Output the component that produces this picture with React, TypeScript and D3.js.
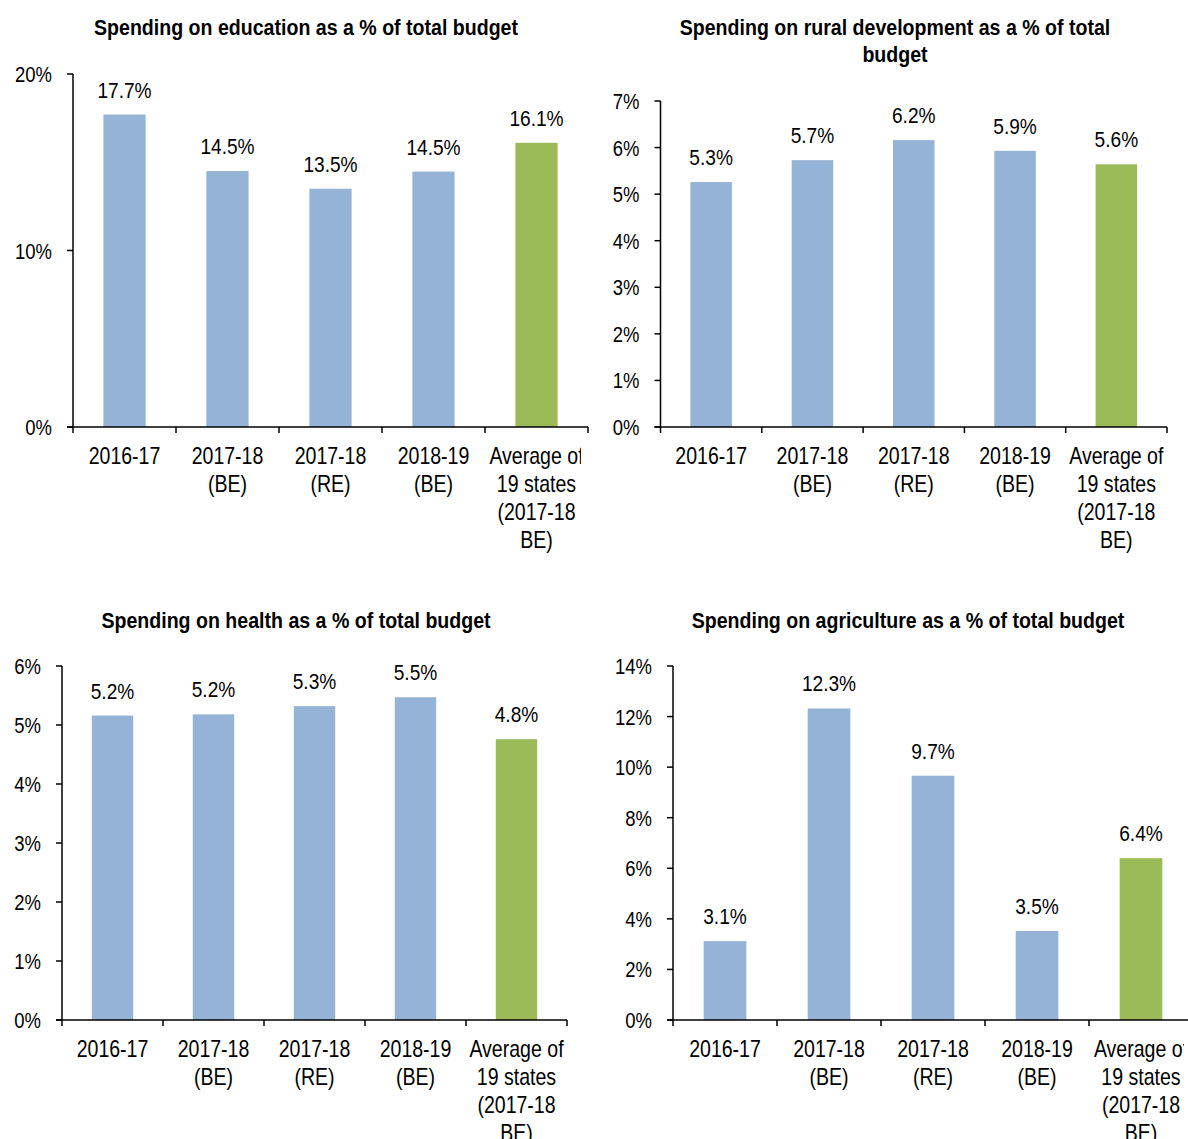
import React from 'react';
import { scaleBand, scaleLinear, range } from 'd3';

// shared x categories (each entry is the wrapped lines of the label)
const categories = ['2016-17', '2017-18 (BE)', '2017-18 (RE)', '2018-19 (BE)', 'Average of 19 states (2017-18 BE)'];
const categoryLines = [
  ['2016-17'],
  ['2017-18', '(BE)'],
  ['2017-18', '(RE)'],
  ['2018-19', '(BE)'],
  ['Average of', '19 states', '(2017-18', 'BE)'],
];

const educationValues = [17.7, 14.5, 13.5, 14.47, 16.1];
const ruralValues = [5.26, 5.73, 6.16, 5.93, 5.64];
const healthValues = [5.16, 5.18, 5.32, 5.47, 4.76];
const agricultureValues = [3.12, 12.32, 9.66, 3.52, 6.4];

const educationTicks = [0, 10, 20];
const ruralTicks = [0, 1, 2, 3, 4, 5, 6, 7];
const healthTicks = [0, 1, 2, 3, 4, 5, 6];
const agricultureTicks = [0, 2, 4, 6, 8, 10, 12, 14];

const BLUE = '#95b3d7';
const GREEN = '#9bbb59';
const FONT = "'Liberation Sans', Arial, sans-serif";

// no narrow font installed, so squeeze the regular one horizontally
const T = ({ x, y, sx = 0.85, size = 23, anchor = 'middle', bold = false, children }: any) => (
  <text
    transform={`translate(${x},${y}) scale(${sx},1)`}
    textAnchor={anchor}
    fontSize={size}
    fontWeight={bold ? 'bold' : 'normal'}
  >
    {children}
  </text>
);

type Panel = {
  id: string;
  title: string[];
  values: number[];
  ticks: number[];
  x0: number;
  bandW: number;
  yTop: number;
  yBottom: number;
  titleX: number;
  titleY: number;
  clipRight: number;
};

const panels: Panel[] = [
  { id: 'edu', title: ['Spending on education as a % of total budget'], values: educationValues, ticks: educationTicks,
    x0: 73, bandW: 103, yTop: 74, yBottom: 427, titleX: 306, titleY: 35, clipRight: 581 },
  { id: 'rural', title: ['Spending on rural development as a % of total', 'budget'], values: ruralValues, ticks: ruralTicks,
    x0: 660.5, bandW: 101.3, yTop: 101, yBottom: 427, titleX: 895, titleY: 35, clipRight: 1188 },
  { id: 'health', title: ['Spending on health as a % of total budget'], values: healthValues, ticks: healthTicks,
    x0: 62, bandW: 101, yTop: 666, yBottom: 1020, titleX: 296, titleY: 628, clipRight: 1188 },
  { id: 'agri', title: ['Spending on agriculture as a % of total budget'], values: agricultureValues, ticks: agricultureTicks,
    x0: 673, bandW: 104, yTop: 666, yBottom: 1020, titleX: 908, titleY: 628, clipRight: 1184 },
];

const BarPanel = ({ p }: { p: Panel }) => {
  const x = scaleBand<string>()
    .domain(categories)
    .range([p.x0, p.x0 + p.bandW * categories.length])
    .paddingInner(0.59)
    .paddingOuter(0.295);
  const y = scaleLinear()
    .domain([0, p.ticks[p.ticks.length - 1]])
    .range([p.yBottom, p.yTop]);
  const xEnd = p.x0 + p.bandW * categories.length;
  const boundaries = range(categories.length + 1).map((i) => p.x0 + i * p.bandW);
  const cx = (i: number) => x(categories[i])! + x.bandwidth() / 2;

  return (
    <g>
      <defs>
        <clipPath id={`clip-${p.id}`}>
          <rect x={0} y={0} width={p.clipRight} height={1139} />
        </clipPath>
      </defs>
      {p.title.map((t, i) => (
        <T key={i} x={p.titleX} y={p.titleY + i * 27} size={22} sx={0.89} bold>
          {t}
        </T>
      ))}
      {p.values.map((v, i) => (
        <g key={i}>
          <rect
            x={x(categories[i])!}
            y={y(v)}
            width={x.bandwidth()}
            height={p.yBottom - y(v)}
            fill={i === 4 ? GREEN : BLUE}
          />
          <T x={cx(i)} y={y(v) - 17} size={22.5}>
            {`${v.toFixed(1)}%`}
          </T>
        </g>
      ))}
      {/* y axis */}
      <line x1={p.x0} x2={p.x0} y1={p.yTop} y2={p.yBottom} stroke="#000" strokeWidth={1.5} />
      {p.ticks.map((t) => (
        <g key={t}>
          <line x1={p.x0 - 6} x2={p.x0} y1={y(t)} y2={y(t)} stroke="#000" strokeWidth={1.5} />
          <T x={p.x0 - 21} y={y(t) + 8} size={21.5} sx={0.86} anchor="end">
            {`${t}%`}
          </T>
        </g>
      ))}
      {/* x axis */}
      <line x1={p.x0 - 6} x2={xEnd} y1={p.yBottom} y2={p.yBottom} stroke="#000" strokeWidth={1.5} />
      {boundaries.map((bx, i) => (
        <line key={i} x1={bx} x2={bx} y1={p.yBottom} y2={p.yBottom + 6} stroke="#000" strokeWidth={1.5} />
      ))}
      {/* category labels get cut at the plot edge, as in the source */}
      <g clipPath={`url(#clip-${p.id})`}>
        {categoryLines.map((lines, i) =>
          lines.map((l, j) => (
            <T key={`${i}-${j}`} x={cx(i)} y={p.yBottom + 37 + j * 28}>
              {l}
            </T>
          ))
        )}
      </g>
    </g>
  );
};

const App = () => (
  <svg
    width={1188}
    height={1139}
    style={{ position: 'absolute', left: 0, top: 0, background: '#fff' }}
    fontFamily={FONT}
    fill="#000"
  >
    <rect width={1188} height={1139} fill="#fff" />
    {panels.map((p) => (
      <BarPanel key={p.id} p={p} />
    ))}
  </svg>
);

export default App;
